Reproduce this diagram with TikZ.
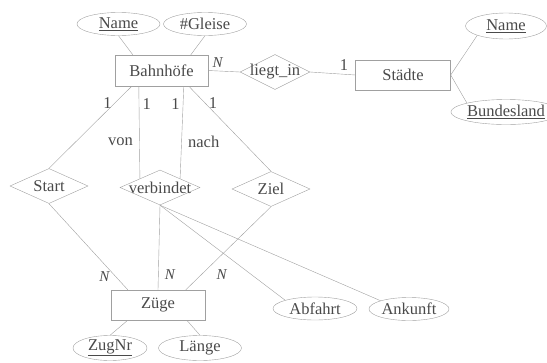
\documentclass[tikz,border=0pt]{standalone}
\usepackage{fontspec}
\setmainfont{Liberation Serif}
\usetikzlibrary{shapes.geometric,positioning}

\definecolor{linegray}{HTML}{A0A0A0}
\definecolor{textgray}{HTML}{4A4A4A}

% diamond text takes no width, so the diamond keeps its size
\newcommand{\reltext}[1]{\makebox[0pt]{#1}}

\tikzset{
	entity/.style={draw=linegray, rectangle, minimum width=93pt, minimum height=31pt, inner sep=0pt},
	attrib/.style={draw=linegray, ellipse, minimum width=82pt, minimum height=24pt, inner sep=0pt},
	relship/.style={draw=linegray, diamond, minimum width=78pt, minimum height=35pt, inner sep=0pt},
	card/.style={font=\fontsize{15}{17}\selectfont\itshape}
}

\begin{document}
\begin{tikzpicture}[x=1pt, y=-1pt, every node/.style={text=textgray, font=\fontsize{16.5}{19}\selectfont}]
		\useasboundingbox (0,0) rectangle (547,362);
		\draw (161.5,70.5) node [entity] (bhf) {Bahnhöfe};
		\draw (403,75) node [entity, minimum width=95pt, minimum height=30pt] (staedte) {Städte};
		\draw (158,305) node [entity, minimum width=94pt, minimum height=30pt] (zuege) {Züge};

		\draw (275,72) node [relship, minimum width=70pt] (liegt) {\reltext{liegt\_in}};
		\draw (49,186) node [relship] (start) {\reltext{Start}};
		\draw (160,187.5) node [relship, minimum width=80pt] (verb) {\reltext{verbindet}};
		\draw (271,189) node [relship] (ziel) {\reltext{Ziel}};

		\draw (118.5,24) node [attrib, minimum width=83pt, minimum height=23pt] (bname) {\underline{Name}};
		\draw (205,24) node [attrib, minimum width=83pt, minimum height=23pt] (gleise) {\#Gleise};
		\draw (506,26) node [attrib, minimum width=81pt, minimum height=26pt] (sname) {\underline{Name}};
		\draw (506,112) node [attrib, minimum width=83pt, minimum height=25pt] (land) {\underline{Bundesland}};
		\draw (110,348) node [attrib, minimum width=74pt, minimum height=25pt] (zugnr) {\underline{ZugNr}};
		\draw (200,348) node [attrib, minimum width=83pt, minimum height=25pt] (laenge) {Länge};
		\draw (315,308.5) node [attrib, minimum width=84pt, minimum height=23pt] (abfahrt) {Abfahrt};
		\draw (409,309) node [attrib, minimum width=80pt, minimum height=23pt] (ankunft) {Ankunft};

		\draw [linegray]
			(bname.south) edge ([xshift=18pt]bhf.north west)
			(gleise.south) edge ([xshift=76pt]bhf.north west)
			(bhf.east) edge node [card, pos=0.3, above] {N} (liegt.west)
			(liegt.east) edge node [pos=0.75, above] {1} (staedte.west)
			(staedte.east) edge (sname.south west)
			(staedte.east) edge (land.north west)
			([xshift=17pt]bhf.south west) edge node [pos=0.2, left] {1} (start.north)
			([xshift=24pt]bhf.south west) edge node [pos=0.19, right] {1} node [pos=0.6, left=3pt] {von} (verb.north west)
			([xshift=69pt]bhf.south west) edge node [pos=0.19, left] {1} node [pos=0.6, right=3pt] {nach} (verb.north east)
			([xshift=74pt]bhf.south west) edge node [pos=0.2, right] {1} (ziel.north)
			(start.south) edge node [card, pos=0.85, left=3pt] {N} ([xshift=17pt]zuege.north west)
			(verb.south) edge node [card, pos=0.82, right=3pt] {N} (zuege.north)
			(ziel.south) edge node [card, pos=0.82, right=12pt] {N} ([xshift=75pt]zuege.north west)
			(verb.south) edge (abfahrt.north west)
			(verb.south) edge (ankunft.north west)
			([xshift=17pt]zuege.south west) edge (zugnr.north)
			([xshift=76pt]zuege.south west) edge (laenge.north)
		;
	\end{tikzpicture}
\end{document}
